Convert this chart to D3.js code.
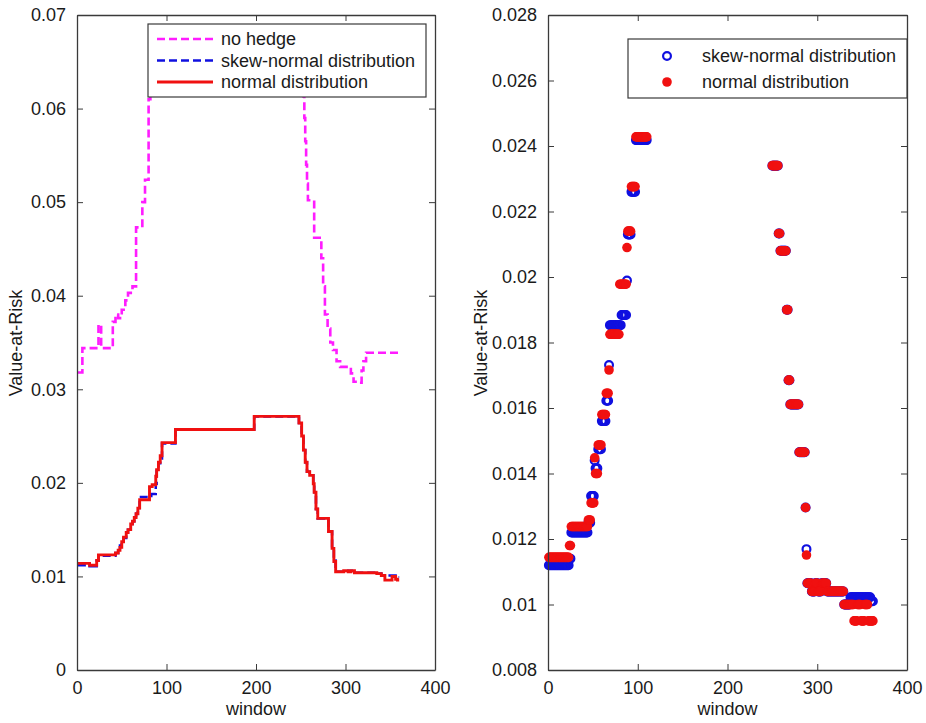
<!DOCTYPE html>
<html>
<head>
<meta charset="utf-8">
<script src="https://cdn.jsdelivr.net/npm/d3@7"></script>
<style>
  html, body { margin: 0; padding: 0; background: #fff; }
  svg text { font-family: "Liberation Sans", Arial, Helvetica, sans-serif; }
</style>
</head>
<body>
<svg id="chart" width="926" height="723"></svg>
<script>
// ---------------- DATA ----------------
const xTicks = [0, 100, 200, 300, 400];
const leftYTicks = [0, 0.01, 0.02, 0.03, 0.04, 0.05, 0.06, 0.07];
const leftYLabels = ["0", "0.01", "0.02", "0.03", "0.04", "0.05", "0.06", "0.07"];
const rightYTicks = [0.008, 0.010, 0.012, 0.014, 0.016, 0.018, 0.020, 0.022, 0.024, 0.026, 0.028];
const rightYLabels = ["0.008", "0.01", "0.012", "0.014", "0.016", "0.018", "0.02", "0.022", "0.024", "0.026", "0.028"];

const leftLegend = ["no hedge", "skew-normal distribution", "normal distribution"];
const rightLegend = ["skew-normal distribution", "normal distribution"];

// Left panel: step series (window where a new value starts, value)
const noHedgeW = [1, 6, 24, 27, 40, 43, 46, 50, 54, 57, 62, 66, 73, 76, 80, 82, 85, 250, 252, 253, 254, 255, 256, 257, 258, 265, 273, 275, 277, 280, 283, 286, 290, 294, 306, 309, 314, 318, 320, 323, 360];
const noHedgeV = [0.0318, 0.0344, 0.0369, 0.0344, 0.0372, 0.0380, 0.0376, 0.0385, 0.0395, 0.0403, 0.0410, 0.0473, 0.0500, 0.0524, 0.0610, 0.0640, 0.0665, 0.0665, 0.0640, 0.0613, 0.0590, 0.0565, 0.0540, 0.0520, 0.0502, 0.0462, 0.0440, 0.0410, 0.0380, 0.0365, 0.0350, 0.0342, 0.0330, 0.0324, 0.0317, 0.0308, 0.0307, 0.0320, 0.0330, 0.0339, 0.0339];

const skewW = [1, 14, 22, 24, 43, 46, 48, 50, 52, 55, 57, 60, 62, 64, 66, 68, 70, 81, 83, 88, 89, 91, 93, 95, 110, 198, 248, 251, 253, 255, 257, 260, 264, 265, 267, 269, 281, 285, 287, 289, 298, 303, 306, 310, 335, 340, 356, 358, 360];
const skewV = [0.0112, 0.0111, 0.0117, 0.0122, 0.0125, 0.0128, 0.0133, 0.0137, 0.0141, 0.0147, 0.0150, 0.0156, 0.0159, 0.0162, 0.0167, 0.0173, 0.0185, 0.0186, 0.0188, 0.0199, 0.0213, 0.0221, 0.0226, 0.0242, 0.0257, 0.0271, 0.0264, 0.0250, 0.0235, 0.0222, 0.0212, 0.0208, 0.0199, 0.0190, 0.0172, 0.0162, 0.0148, 0.0130, 0.0117, 0.0105, 0.0106, 0.0105, 0.0106, 0.0104, 0.0103, 0.0101, 0.0100, 0.0099, 0.0099];

const normW = [1, 14, 22, 24, 43, 46, 48, 50, 52, 55, 57, 60, 62, 64, 66, 68, 70, 81, 84, 88, 89, 91, 93, 95, 110, 198, 248, 251, 253, 255, 257, 260, 264, 265, 267, 269, 281, 285, 287, 289, 298, 303, 306, 310, 335, 340, 344, 352, 356, 358, 360];
const normV = [0.0114, 0.0112, 0.0117, 0.0123, 0.0125, 0.0128, 0.0131, 0.0137, 0.0142, 0.0147, 0.0150, 0.0156, 0.0159, 0.0163, 0.0167, 0.0173, 0.0182, 0.0196, 0.0198, 0.0207, 0.0214, 0.0222, 0.0229, 0.0243, 0.0257, 0.0271, 0.0264, 0.0250, 0.0235, 0.0222, 0.0212, 0.0208, 0.0199, 0.0190, 0.0172, 0.0162, 0.0148, 0.0130, 0.0116, 0.0105, 0.0106, 0.0105, 0.0106, 0.0104, 0.0103, 0.0101, 0.0096, 0.0100, 0.0097, 0.0096, 0.0096];

// Right panel: runs of windows sharing a value (first window, last window, value)
const snStart = [1, 24, 26, 45, 48, 52, 53, 56, 60, 65, 68, 69, 82, 88, 89, 93, 98, 250, 257, 259, 266, 268, 270, 280, 287, 288, 289, 294, 298, 301, 305, 311, 330, 337, 360];
const snEnd   = [23, 25, 44, 47, 51, 52, 55, 59, 64, 67, 68, 81, 87, 88, 92, 97, 110, 256, 258, 265, 267, 269, 279, 286, 287, 288, 293, 297, 300, 304, 310, 329, 336, 359, 362];
const snVal   = [0.0112, 0.0114, 0.0122, 0.0125, 0.01331, 0.0144, 0.01416, 0.01474, 0.0156, 0.01622, 0.01731, 0.01853, 0.01884, 0.01989, 0.0213, 0.0226, 0.02418, 0.0234, 0.02133, 0.0208, 0.0190, 0.01685, 0.01611, 0.01465, 0.01296, 0.01169, 0.01065, 0.0104, 0.01065, 0.0104, 0.01065, 0.0104, 0.0100, 0.01022, 0.0101];

const nStart = [1, 24, 26, 45, 48, 52, 53, 56, 60, 65, 68, 69, 80, 88, 89, 93, 98, 250, 257, 259, 266, 268, 270, 280, 287, 288, 289, 294, 298, 301, 305, 311, 330, 341, 345, 349, 353, 357];
const nEnd   = [23, 25, 44, 47, 51, 52, 55, 59, 64, 67, 68, 79, 87, 88, 92, 97, 110, 256, 258, 265, 267, 269, 279, 286, 287, 288, 293, 297, 300, 304, 310, 329, 340, 344, 348, 352, 356, 362];
const nVal   = [0.01144, 0.0118, 0.01238, 0.01258, 0.0131, 0.01448, 0.0140, 0.01487, 0.0158, 0.01645, 0.01716, 0.01825, 0.01978, 0.0209, 0.0214, 0.02276, 0.02428, 0.0234, 0.02133, 0.0208, 0.0190, 0.01685, 0.01611, 0.01465, 0.01296, 0.01151, 0.01065, 0.0104, 0.01065, 0.0104, 0.01065, 0.0104, 0.0100, 0.0095, 0.0100, 0.0095, 0.0100, 0.0095];

// ---------------- DRAW ----------------
const svg = d3.select("#chart");
const axisColor = "#3a3a3a";
const textColor = "#1a1a1a";
const FS = 18;

const cMagenta = "#ff1cff", cBlue = "#1010e0", cRed = "#f01010";

function frame(g, x, y, yTicks, yLabels) {
  const [x0, x1] = x.range();
  const [y0, y1] = y.range();
  g.append("g").attr("transform", `translate(${x0},0)`)
    .call(d3.axisLeft(y).tickValues(yTicks).tickFormat((d, i) => yLabels[i]).tickSizeInner(-6).tickSizeOuter(0).tickPadding(11));
  g.append("g").attr("transform", `translate(0,${y0})`)
    .call(d3.axisBottom(x).tickValues(xTicks).tickFormat(d3.format("d")).tickSizeInner(-6).tickSizeOuter(0).tickPadding(11));
  g.append("g").attr("transform", `translate(0,${y1})`)
    .call(d3.axisTop(x).tickValues(xTicks).tickFormat("").tickSizeInner(-6).tickSizeOuter(0));
  g.append("g").attr("transform", `translate(${x1},0)`)
    .call(d3.axisRight(y).tickValues(yTicks).tickFormat("").tickSizeInner(-6).tickSizeOuter(0));
  g.selectAll(".domain").attr("stroke", axisColor).attr("stroke-width", 1.3);
  g.selectAll(".tick line").attr("stroke", axisColor).attr("stroke-width", 1);
  g.selectAll(".tick text").attr("font-size", FS).attr("fill", textColor)
    .attr("font-family", "'Liberation Sans', Arial, sans-serif");
  g.append("text").attr("x", (x0 + x1) / 2).attr("y", 715).attr("text-anchor", "middle")
    .attr("font-size", FS).attr("fill", textColor).text("window");
}

// ---------- Left panel ----------
const xL = d3.scaleLinear().domain([0, 400]).range([77, 435]);
const yL = d3.scaleLinear().domain([0, 0.07]).range([670, 15]);
const gL = svg.append("g");

svg.append("defs").append("clipPath").attr("id", "clipL")
  .append("rect").attr("x", 77).attr("y", 15).attr("width", 358).attr("height", 655);

const stepLine = d3.line().x(d => xL(d[0])).y(d => yL(d[1])).curve(d3.curveStepAfter);
const zip = (w, v) => w.map((d, i) => [d, v[i]]);

const lines = gL.append("g").attr("clip-path", "url(#clipL)");
lines.append("path").datum(zip(noHedgeW, noHedgeV)).attr("d", stepLine)
  .attr("fill", "none").attr("stroke", cMagenta).attr("stroke-width", 2.6).attr("stroke-dasharray", "8,4");
lines.append("path").datum(zip(skewW, skewV)).attr("d", stepLine)
  .attr("fill", "none").attr("stroke", cBlue).attr("stroke-width", 2.5).attr("stroke-dasharray", "8,4");
lines.append("path").datum(zip(normW, normV)).attr("d", stepLine)
  .attr("fill", "none").attr("stroke", cRed).attr("stroke-width", 2.9);

frame(gL, xL, yL, leftYTicks, leftYLabels);
gL.append("text").attr("transform", "translate(22,343) rotate(-90)").attr("text-anchor", "middle")
  .attr("font-size", FS).attr("fill", textColor).text("Value-at-Risk");

const lg = gL.append("g");
lg.append("rect").attr("x", 148).attr("y", 24).attr("width", 278).attr("height", 73)
  .attr("fill", "#fff").attr("stroke", axisColor).attr("stroke-width", 1.2);
const legStyles = [
  { c: cMagenta, dash: "8,4", w: 2.6 },
  { c: cBlue, dash: "8,4", w: 2.5 },
  { c: cRed, dash: null, w: 2.9 }
];
leftLegend.forEach((t, i) => {
  const yy = 39 + i * 21.5;
  lg.append("line").attr("x1", 157).attr("x2", 213).attr("y1", yy).attr("y2", yy)
    .attr("stroke", legStyles[i].c).attr("stroke-width", legStyles[i].w)
    .attr("stroke-dasharray", legStyles[i].dash);
  lg.append("text").attr("x", 221).attr("y", yy).attr("dy", "0.35em")
    .attr("font-size", FS).attr("fill", textColor).text(t);
});

// ---------- Right panel ----------
const xR = d3.scaleLinear().domain([0, 400]).range([548, 907]);
const yR = d3.scaleLinear().domain([0.008, 0.028]).range([670, 15]);
const gR = svg.append("g");

function expand(s, e, v) {
  const pts = [];
  s.forEach((st, i) => { for (let w = st; w <= e[i]; w++) pts.push([w, v[i]]); });
  return pts;
}
const snPts = expand(snStart, snEnd, snVal);
const nPts = expand(nStart, nEnd, nVal);

gR.append("g").selectAll("circle").data(snPts).join("circle")
  .attr("cx", d => xR(d[0])).attr("cy", d => yR(d[1])).attr("r", 3.9)
  .attr("fill", "none").attr("stroke", cBlue).attr("stroke-width", 2.2);
gR.append("g").selectAll("circle").data(nPts).join("circle")
  .attr("cx", d => xR(d[0])).attr("cy", d => yR(d[1])).attr("r", 4.8)
  .attr("fill", cRed);

frame(gR, xR, yR, rightYTicks, rightYLabels);
gR.append("text").attr("transform", "translate(487,343) rotate(-90)").attr("text-anchor", "middle")
  .attr("font-size", FS).attr("fill", textColor).text("Value-at-Risk");

const rg = gR.append("g");
rg.append("rect").attr("x", 628).attr("y", 39).attr("width", 279).attr("height", 59)
  .attr("fill", "#fff").attr("stroke", axisColor).attr("stroke-width", 1.2);
rightLegend.forEach((t, i) => {
  const yy = 56 + i * 26;
  if (i === 0) {
    rg.append("circle").attr("cx", 667).attr("cy", yy).attr("r", 3.9)
      .attr("fill", "none").attr("stroke", cBlue).attr("stroke-width", 2.2);
  } else {
    rg.append("circle").attr("cx", 667).attr("cy", yy).attr("r", 4.8).attr("fill", cRed);
  }
  rg.append("text").attr("x", 702).attr("y", yy).attr("dy", "0.35em")
    .attr("font-size", FS).attr("fill", textColor).text(t);
});
</script>
</body>
</html>
